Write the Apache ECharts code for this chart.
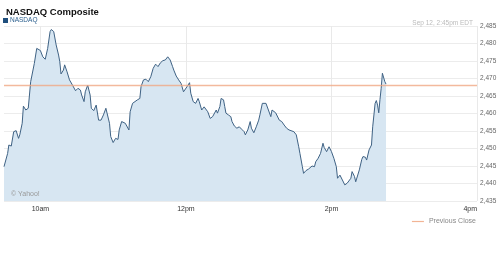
<!DOCTYPE html>
<html>
<head>
<meta charset="utf-8">
<script src="https://cdn.jsdelivr.net/npm/echarts@6/dist/echarts.min.js"></script>
<style>
html,body{margin:0;padding:0;background:#fff;}
#chart{width:500px;height:261px;}
</style>
</head>
<body>
<div id="chart"></div>
<script>
// Intraday times (EDT) and NASDAQ Composite values, Sep 12
const times = ["9:30","9:33","9:34","9:36","9:38","9:40","9:42","9:43","9:45","9:46","9:48","9:50","9:52","9:53","9:55","9:57",
"10:00","10:02","10:04","10:06","10:08","10:09","10:11","10:13","10:15","10:16","10:17","10:19","10:20","10:22","10:24","10:26","10:27","10:29","10:31","10:33","10:34","10:36","10:37","10:39","10:41","10:42","10:44","10:46","10:48","10:50","10:52","10:54","10:55","10:57","10:58",
"11:00","11:02","11:04","11:05","11:07","11:10","11:11","11:13","11:14","11:16","11:18","11:20","11:22","11:23","11:25","11:27","11:29","11:31","11:33","11:35","11:37","11:39","11:41","11:43","11:45","11:47","11:49","11:50","11:52","11:54","11:56","11:58","11:59",
"12:01","12:03","12:04","12:06","12:08","12:10","12:11","12:13","12:15","12:16","12:18","12:20","12:22","12:23","12:25","12:26","12:28","12:29","12:31","12:32","12:33","12:35","12:37","12:38","12:40","12:42","12:44","12:46","12:48","12:49","12:51","12:53","12:54","12:56","12:58",
"13:00","13:01","13:03","13:04","13:06","13:08","13:10","13:11","13:14","13:15","13:17","13:19","13:21","13:23","13:25","13:26","13:29","13:31","13:33","13:34","13:36","13:37","13:39","13:41","13:42","13:44","13:46","13:47","13:49","13:51","13:53","13:54","13:56","13:58",
"14:00","14:02","14:04","14:05","14:07","14:08","14:09","14:11","14:13","14:14","14:16","14:17","14:19","14:20","14:21","14:23","14:25","14:26","14:28","14:29","14:31","14:33","14:34","14:36","14:37","14:38","14:39","14:40","14:41","14:42","14:44","14:45"];
const values = [2444.8,2448.6,2451.0,2450.7,2454.8,2455.1,2452.9,2453.9,2457.2,2462.1,2461.0,2461.5,2469.1,2469.6,2474.3,2478.6,
2478.0,2476.2,2475.5,2478.6,2483.4,2484.0,2483.4,2479.6,2476.7,2474.8,2471.3,2472.4,2473.9,2471.9,2469.6,2468.4,2468.1,2466.5,2467.2,2466.7,2465.3,2463.4,2466.2,2468.1,2465.3,2461.5,2460.8,2462.4,2458.1,2458.1,2459.6,2461.5,2461.0,2457.2,2453.4,
2451.7,2452.9,2452.6,2455.3,2457.7,2457.2,2456.7,2455.3,2460.5,2462.9,2463.4,2463.9,2464.3,2467.7,2469.6,2469.8,2469.1,2470.5,2472.9,2474.1,2473.4,2474.5,2475.1,2475.3,2476.2,2475.3,2473.4,2472.4,2470.7,2469.6,2468.6,2466.2,2465.8,
2467.7,2468.8,2465.8,2463.4,2462.9,2464.3,2463.4,2461.0,2461.9,2462.4,2460.5,2458.6,2459.1,2459.6,2461.0,2460.1,2462.0,2464.3,2463.9,2462.0,2460.1,2459.6,2459.1,2457.7,2456.4,2455.8,2456.2,2455.5,2454.8,2453.9,2455.3,2457.7,2455.8,2454.5,2456.2,
2458.1,2459.6,2462.9,2463.4,2462.9,2461.0,2459.1,2461.0,2460.2,2460.5,2458.1,2457.7,2456.7,2455.8,2455.3,2455.3,2454.8,2453.9,2450.5,2448.6,2444.8,2442.9,2443.7,2444.1,2444.6,2445.0,2444.8,2446.2,2447.2,2448.6,2451.5,2450.3,2449.1,2450.5,
2449.1,2447.2,2444.8,2441.5,2442.4,2442.9,2441.0,2439.6,2440.1,2440.2,2441.5,2443.4,2442.0,2440.5,2440.7,2443.9,2446.9,2447.7,2447.5,2446.7,2449.6,2451.0,2456.2,2462.9,2463.7,2462.4,2460.2,2464.0,2467.2,2471.5,2469.1,2468.4];
const previousClose = 2467.99;
const sessionStart = "9:30";
const sessionEnd = "16:00";
const tickTimes = ["10:00","12:00","14:00","16:00"];
const tickLabels = ["10am","12pm","2pm","4pm"];
const yMin = 2435, yMax = 2485, yStep = 5;

function toMin(t){const p=t.split(":");return (+p[0])*60+(+p[1]);}
const nasdaqData = times.map((t,i)=>[toMin(t), values[i]]);
const prevData = [[toMin(sessionStart), previousClose],[toMin(sessionEnd), previousClose]];
const tickMins = tickTimes.map(toMin);

const FONT = '"Liberation Sans", Arial, sans-serif';
const chart = echarts.init(document.getElementById('chart'), null, {renderer:'canvas'});
chart.setOption({
  animation:false,
  backgroundColor:'#fff',
  title:[
    {text:'NASDAQ Composite', left:1, top:2, textStyle:{fontFamily:FONT, fontSize:9.5, fontWeight:'bold', color:'#111'}},
    {text:'Sep 12, 2:45pm EDT', right:22, top:15, textStyle:{fontFamily:FONT, fontSize:6.5, fontWeight:'normal', color:'#bbb'}},
    {text:'© Yahoo!', left:6, top:186, textStyle:{fontFamily:FONT, fontSize:7, fontWeight:'normal', color:'#999'}}
  ],
  legend:[
    {data:[{name:'NASDAQ', icon:'rect', itemStyle:{color:'#1f4f7d'}}], left:3, top:17, padding:0, itemWidth:5, itemHeight:5, itemGap:2,
     textStyle:{fontFamily:FONT, fontSize:6.5, color:'#2b5f8e', padding:[0,0,0,-3]}},
    {data:[{name:'Previous Close', icon:'rect', itemStyle:{color:'#f2b494'}}], right:24, top:218, padding:0, itemWidth:12, itemHeight:1.2,
     textStyle:{fontFamily:FONT, fontSize:7, color:'#888'}}
  ],
  grid:{left:4, right:23, top:26, bottom:60, containLabel:false},
  xAxis:{
    type:'value', min:toMin(sessionStart), max:toMin(sessionEnd),
    axisLine:{show:false}, axisTick:{show:false, customValues:tickMins},
    axisLabel:{customValues:tickMins, formatter:v=>tickLabels[tickMins.indexOf(v)]||'', fontFamily:FONT, fontSize:7, color:'#333', margin:5, alignMaxLabel:'right'},
    splitLine:{show:true, lineStyle:{color:'#e9e9e9', width:1}}
  },
  yAxis:{
    type:'value', position:'right', min:yMin, max:yMax, interval:yStep,
    axisLine:{show:false}, axisTick:{show:false},
    axisLabel:{fontFamily:FONT, fontSize:6.5, color:'#666', margin:3, formatter:v=>v.toLocaleString('en-US')},
    splitLine:{show:true, lineStyle:{color:'#ececec', width:1}}
  },
  series:[
    {name:'NASDAQ', type:'line', data:nasdaqData, symbol:'none', showSymbol:false,
     lineStyle:{color:'#3f6284', width:1}, itemStyle:{color:'#1f4f7d'},
     areaStyle:{color:'#d7e6f2', opacity:1, origin:'start'}, z:2},
    {name:'Previous Close', type:'line', data:prevData, symbol:'none', showSymbol:false,
     lineStyle:{color:'#f0a784', width:1.5, opacity:0.8}, itemStyle:{color:'#f0a784'}, z:3}
  ]
});
</script>
</body>
</html>
